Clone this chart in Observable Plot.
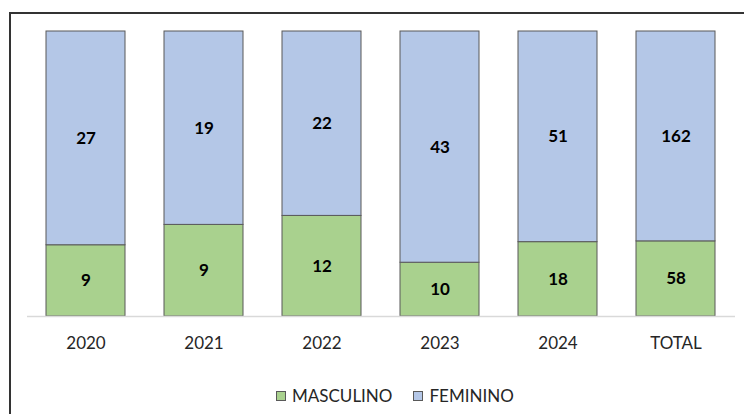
<!DOCTYPE html>
<html>
<head>
<meta charset="utf-8">
<script src="https://cdn.jsdelivr.net/npm/d3@7"></script>
<script src="https://cdn.jsdelivr.net/npm/@observablehq/plot@0.6"></script>
<style>
  html, body { margin: 0; padding: 0; background: #fff; width: 744px; height: 414px; overflow: hidden; }
  #frame { position: absolute; left: 9px; top: 12px; width: 760px; height: 420px;
           border-left: 2px solid #333; border-top: 2px solid #333; box-sizing: border-box; }
  #chart { position: absolute; left: 0; top: 0; }
  #legend { position: absolute; left: 265px; top: 371px; font-family: Lato, sans-serif; font-size: 17px;
            color: #262626; display: flex; align-items: center; white-space: nowrap; }
  .sw { display: inline-block; width: 8px; height: 8px; border: 1px solid #595959; margin-right: 6px; }
  .item { display: flex; align-items: center; margin-right: 21px; }
</style>
</head>
<body>
<div id="frame"><div id="chart"></div><div id="legend"></div></div>
<script>
const categories = ["2020", "2021", "2022", "2023", "2024", "TOTAL"];
const masculino = [9, 9, 12, 10, 18, 58];
const feminino = [27, 19, 22, 43, 51, 162];
const seriesNames = ["MASCULINO", "FEMININO"];
const seriesColors = ["#A9D18E", "#B4C7E7"];

const rows = [];
categories.forEach((c, i) => {
  rows.push({cat: c, serie: seriesNames[0], value: masculino[i]});
  rows.push({cat: c, serie: seriesNames[1], value: feminino[i]});
});

const chart = Plot.plot({
  width: 733,
  height: 342,
  marginLeft: 16,
  marginRight: 9,
  marginTop: 17,
  marginBottom: 40,
  style: {fontFamily: "Lato, sans-serif", fontSize: "17px", color: "#262626", background: "transparent"},
  x: {domain: categories, paddingInner: 0.33, paddingOuter: 0.165, label: null, tickSize: 0, tickPadding: 20},
  y: {axis: null, domain: [0, 1]},
  color: {domain: seriesNames, range: seriesColors},
  marks: [
    Plot.barY(rows, Plot.stackY({x: "cat", y: "value", fill: "serie", offset: "normalize",
      stroke: "#595959", strokeWidth: 1})),
    Plot.ruleY([0], {stroke: "#d9d9d9", strokeWidth: 1.5}),
    Plot.text(rows, Plot.stackY({x: "cat", y: "value", text: "value", offset: "normalize",
      fill: "#000", fontWeight: "bold", fontSize: 17}))
  ]
});
document.getElementById("chart").appendChild(chart);

const legend = document.getElementById("legend");
seriesNames.forEach((name, i) => {
  const item = document.createElement("span");
  item.className = "item";
  const sw = document.createElement("span");
  sw.className = "sw";
  sw.style.background = seriesColors[i];
  item.appendChild(sw);
  item.appendChild(document.createTextNode(name));
  legend.appendChild(item);
});
</script>
</body>
</html>
